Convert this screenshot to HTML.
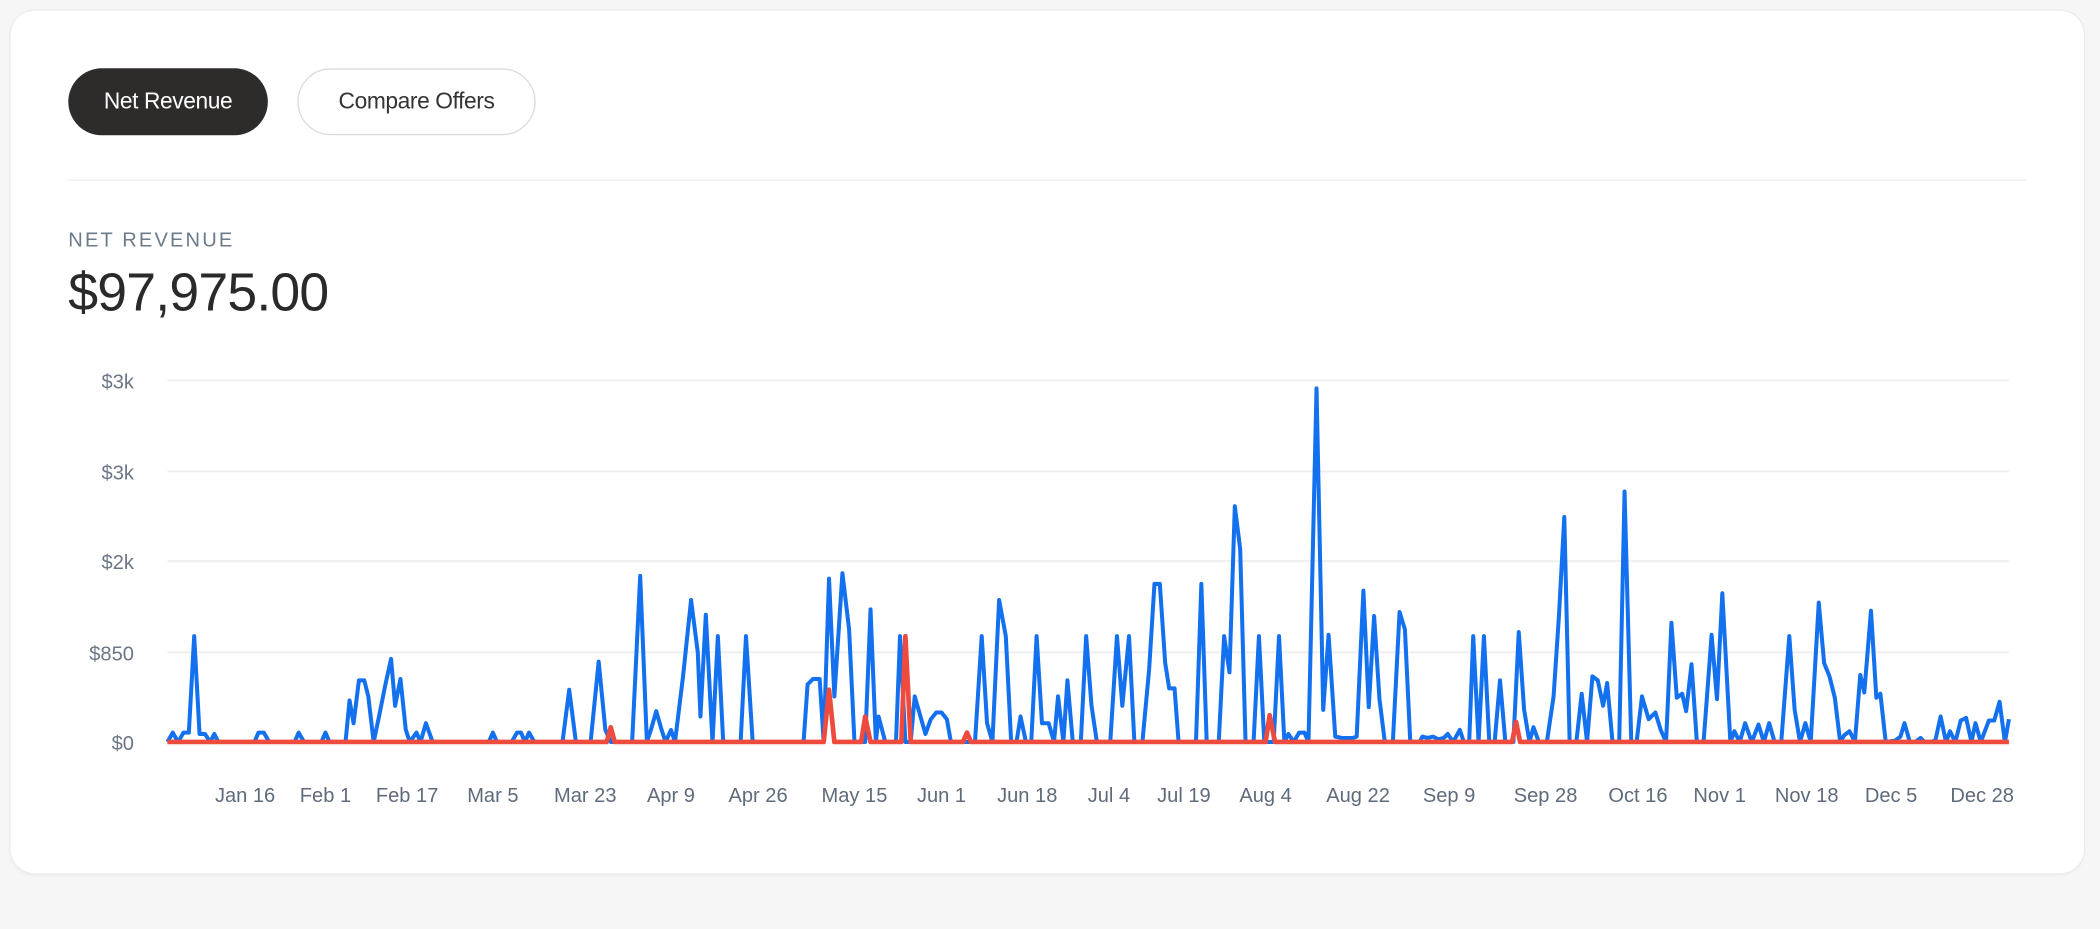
<!DOCTYPE html>
<html><head><meta charset="utf-8"><style>
html,body{margin:0;padding:0;background:#f6f6f6;width:2100px;height:929px;overflow:hidden}
#w{position:absolute;left:0;top:0;width:1568px;height:694px;transform:scale(1.33929);transform-origin:0 0;font-family:"Liberation Sans",sans-serif}
.card{position:absolute;left:8px;top:8px;width:1548px;height:644px;background:#fff;border-radius:18px;box-shadow:0 0 0 1px #ececec,0 1px 3px rgba(0,0,0,.05)}
.btn{position:absolute;top:51px;height:50px;border-radius:25px;box-sizing:border-box;font-size:17px;line-height:50px;text-align:center;letter-spacing:-0.3px}
.b1{left:51px;width:149px;background:#2e2c2b;color:#fff}
.b2{left:222px;width:178px;border:1px solid #dcdcdc;color:#333;line-height:48px}
.div{position:absolute;left:51px;top:134px;width:1462px;height:1px;background:#ececec}
.lbl{position:absolute;left:51px;top:171px;font-size:15px;letter-spacing:1.6px;color:#6c7a89}
.big{position:absolute;left:51px;top:197px;font-size:40px;color:#2a2a2a;letter-spacing:-0.6px}
</style></head><body><div id="w">
<div class="card"></div>
<div class="btn b1">Net Revenue</div>
<div class="btn b2">Compare Offers</div>
<div class="div"></div>
<div class="lbl">NET REVENUE</div>
<div class="big">$97,975.00</div>
<svg style="position:absolute;left:0;top:0" width="1568" height="694">
<g stroke="#efefef" stroke-width="1.5">
<line x1="125" x2="1500" y1="284" y2="284"/><line x1="125" x2="1500" y1="352" y2="352"/><line x1="125" x2="1500" y1="419" y2="419"/><line x1="125" x2="1500" y1="487" y2="487"/>
</g>
<g font-size="15" fill="#6b7786" text-anchor="end" font-family="Liberation Sans,sans-serif">
<text x="100" y="290">$3k</text><text x="100" y="358">$3k</text><text x="100" y="425">$2k</text><text x="100" y="493">$850</text><text x="100" y="560">$0</text>
</g>
<g font-size="15" fill="#5f6b7a" text-anchor="middle" font-family="Liberation Sans,sans-serif">
<text x="183" y="599">Jan 16</text><text x="243" y="599">Feb 1</text><text x="304" y="599">Feb 17</text><text x="368" y="599">Mar 5</text><text x="437" y="599">Mar 23</text><text x="501" y="599">Apr 9</text><text x="566" y="599">Apr 26</text><text x="638" y="599">May 15</text><text x="703" y="599">Jun 1</text><text x="767" y="599">Jun 18</text><text x="828" y="599">Jul 4</text><text x="884" y="599">Jul 19</text><text x="945" y="599">Aug 4</text><text x="1014" y="599">Aug 22</text><text x="1082" y="599">Sep 9</text><text x="1154" y="599">Sep 28</text><text x="1223" y="599">Oct 16</text><text x="1284" y="599">Nov 1</text><text x="1349" y="599">Nov 18</text><text x="1412" y="599">Dec 5</text><text x="1480" y="599">Dec 28</text>
</g>
<polyline fill="none" stroke="#1370ee" stroke-width="3" stroke-linejoin="round" points="125,554 129,547 133,554 137,547 141,547 145,475 149,548 153,548 157,554 160,548 163,554 190,554 193,547 197,547 201,554 220,554 223,547 227,554 240,554 243,547 246,554 258,554 261,523 264,540 268,508 272,508 275,520 279,554 283,535 288,510 292,492 295,527 299,507 303,545 306,554 311,547 314,554 318,540 323,554 365,554 368,547 371,554 382,554 386,547 389,547 392,554 395,547 399,554 420,554 425,515 430,554 441,554 447,494 452,545 456,554 472,554 478,430 483,554 486,545 490,531 494,545 497,554 501,545 504,554 510,505 516,448 521,487 523,535 527,459 532,554 536,475 540,554 553,554 557,475 562,554 600,554 603,511 607,507 612,507 615,554 619,432 623,520 629,428 634,470 638,554 646,554 650,455 654,554 656,535 661,554 669,554 672,475 676,554 680,554 683,520 687,534 691,548 695,537 699,532 703,532 707,537 710,554 728,554 733,475 737,540 741,554 746,448 751,475 755,554 759,554 762,535 766,554 770,554 774,475 778,540 783,540 787,554 790,520 794,554 797,508 801,554 807,554 811,475 815,527 819,554 829,554 834,475 838,527 843,475 847,554 853,554 858,500 862,436 866,436 870,495 873,514 877,514 880,554 893,554 897,436 901,554 910,554 914,475 918,502 922,378 926,410 930,554 936,554 940,475 944,554 951,554 955,475 959,554 962,548 966,554 970,547 974,547 977,554 983,290 988,530 992,474 997,550 1002,551 1010,551 1013,550 1018,441 1022,528 1026,460 1030,522 1034,554 1040,554 1045,457 1049,470 1053,554 1060,554 1062,550 1066,551 1070,550 1074,552 1078,551 1081,548 1085,554 1090,545 1093,554 1097,554 1100,475 1104,554 1108,475 1112,554 1116,554 1120,508 1124,554 1130,554 1134,472 1138,530 1142,554 1145,543 1149,554 1155,554 1160,520 1164,460 1168,386 1172,554 1177,554 1181,518 1185,554 1189,505 1193,508 1197,527 1200,510 1204,554 1209,554 1213,367 1218,554 1222,554 1226,520 1231,537 1236,532 1240,545 1244,554 1248,465 1252,521 1256,518 1259,531 1263,496 1267,554 1272,554 1278,474 1282,522 1286,443 1292,554 1295,546 1299,554 1303,540 1308,554 1313,541 1317,554 1321,540 1325,554 1330,554 1336,475 1340,530 1344,554 1348,540 1352,554 1358,450 1362,495 1366,505 1370,521 1374,554 1377,549 1381,546 1385,554 1389,504 1392,517 1397,456 1401,521 1404,518 1408,554 1415,553 1419,550 1422,540 1426,554 1430,554 1434,551 1437,554 1441,554 1445,553 1449,535 1453,554 1456,546 1460,554 1464,538 1468,536 1472,554 1475,540 1479,554 1485,538 1489,538 1493,524 1497,554 1500,537"/>
<polyline fill="none" stroke="#ee4a3e" stroke-width="3.5" stroke-linejoin="round" points="125,554 453,554 456,543 459,554 615,554 619,515 623,554 643,554 646,535 650,554 673,554 676,475 680,554 719,554 722,547 725,554 945,554 948,534 952,554 1129,554 1132,539 1135,554 1500,554"/>
</svg>
</div></body></html>
